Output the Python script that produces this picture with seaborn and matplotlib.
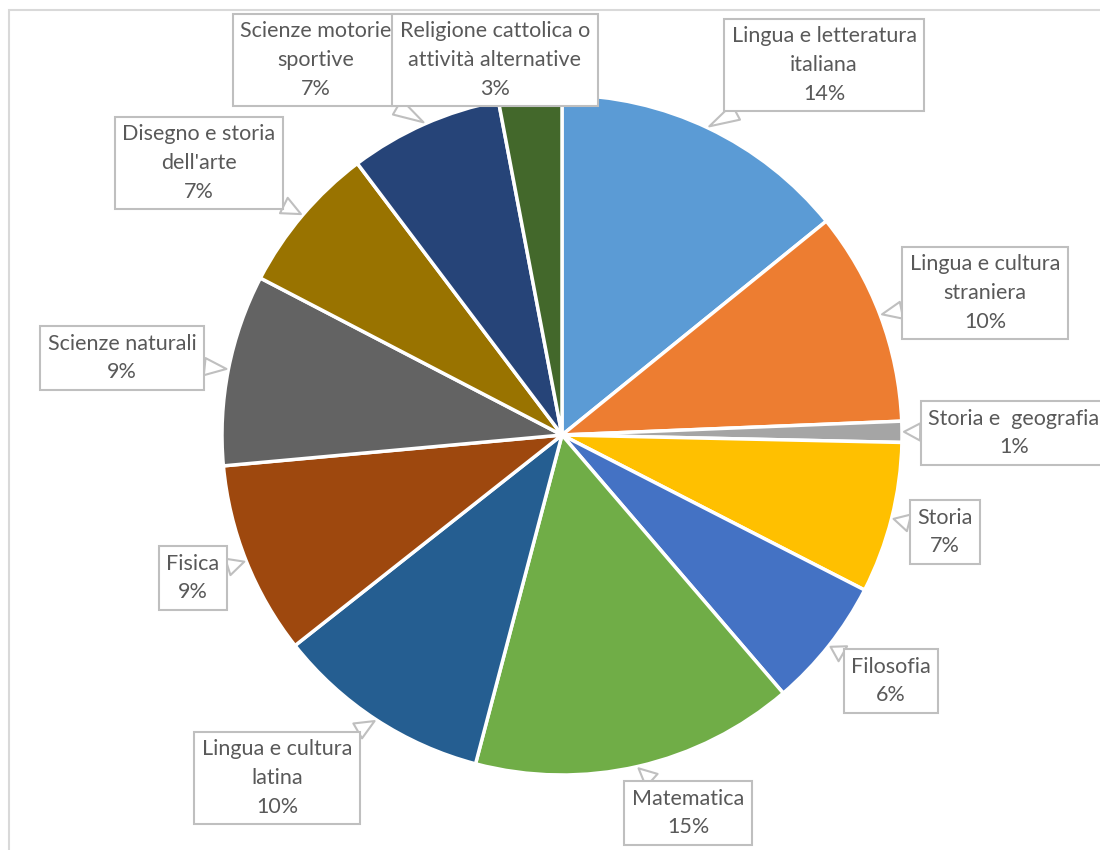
import numpy as np
import matplotlib
matplotlib.use("Agg")
import matplotlib.pyplot as plt
import seaborn as sns
from matplotlib.patches import Rectangle

# materie e quote
materie = ["Lingua e letteratura\nitaliana", "Lingua e cultura\nstraniera",
           "Storia e  geografia", "Storia", "Filosofia", "Matematica",
           "Lingua e cultura\nlatina", "Fisica", "Scienze naturali",
           "Disegno e storia\ndell'arte", "Scienze motorie\nsportive",
           "Religione cattolica o\nattività alternative"]
quote = [14.2, 10.2, 1.0, 7.2, 6.2, 15.4, 10.3, 9.2, 9.1, 7.1, 7.3, 3.0]
colori = ["#5B9BD5", "#ED7D31", "#A5A5A5", "#FFC000", "#4472C4", "#70AD47",
          "#255E91", "#9E480E", "#636363", "#997300", "#264478", "#43682B"]

# posizione dei riquadri delle etichette (pixel, y dall'alto)
box_x = [824, 985, 1014, 945, 891, 688, 277, 193, 122, 199, 316, 495]
box_y = [65, 293, 433, 532, 681, 813, 778, 578, 358, 163, 60, 60]

sns.set_theme(style="white")
plt.rcParams['font.family'] = ['Lato', 'DejaVu Sans']

W, H = 1100, 850
fig = plt.figure(figsize=(11, 8.5), dpi=100)
ax = fig.add_axes([0, 0, 1, 1])
ax.set_xlim(0, W)
ax.set_ylim(0, H)
ax.axis("off")

# cornice del grafico
ax.add_patch(Rectangle((9, -20), W + 20, H - 10 + 20, fill=False,
                       ec="#D9D9D9", lw=1.5))

cx, cy, r = 562, H - 435, 340
wedges, _ = ax.pie(quote, colors=sns.color_palette(colori), startangle=90,
                   counterclock=False, center=(cx, cy), radius=r,
                   wedgeprops=dict(edgecolor="white", linewidth=2.5))
ax.set_xlim(0, W)
ax.set_ylim(0, H)
ax.set_aspect("equal")

tot = sum(quote)
for w, nome, q, bx, by in zip(wedges, materie, quote, box_x, box_y):
    ang = np.deg2rad((w.theta1 + w.theta2) / 2)
    px, py = cx + (r + 2) * np.cos(ang), cy + (r + 2) * np.sin(ang)
    testo = f"{nome}\n{round(q / tot * 100)}%"
    ax.annotate(testo, xy=(px, py), xytext=(bx, H - by),
                ha="center", va="center", fontsize=15.5, color="#595959",
                linespacing=1.55,
                bbox=dict(boxstyle="square,pad=0.35", fc="white",
                          ec="#BFBFBF", lw=1.5),
                arrowprops=dict(arrowstyle="wedge,tail_width=0.8,shrink_factor=0.5",
                                fc="white", ec="#BFBFBF", lw=1.5,
                                shrinkA=0, shrinkB=0))

fig.savefig("out.png", dpi=100)
